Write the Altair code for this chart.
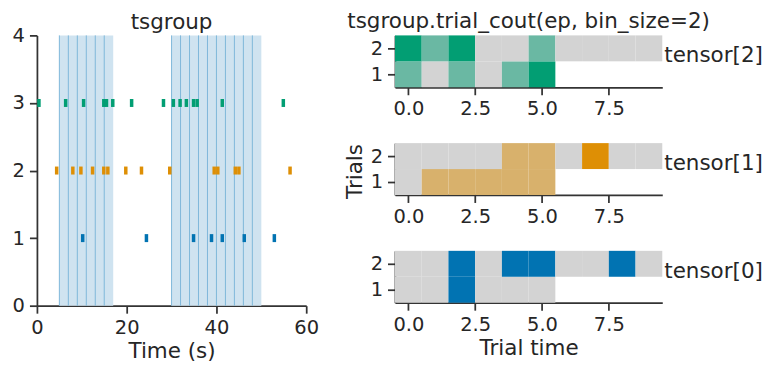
import altair as alt
import pandas as pd

# ---------------- data ----------------
unit0_times = [10.2, 24.4, 34.9, 38.9, 41.3, 46.2, 52.9]
unit1_times = [4.4, 8.0, 9.8, 12.4, 14.9, 15.8, 19.8, 23.3, 29.6, 39.5, 40.3, 44.2, 45.0, 56.4]
unit2_times = [0.45, 6.4, 10.4, 14.9, 15.5, 16.9, 21.1, 28.2, 30.4, 31.9, 33.3, 34.9, 35.7, 41.3, 54.9]

epoch_starts = [5, 30]
epoch_ends = [17, 50]
bin_edges = [5, 7, 9, 11, 13, 15, 30, 32, 34, 36, 38, 40, 42, 44, 46, 48]

# counts per tensor, per trial (trial 1 has 6 bins, trial 2 has 10 bins)
counts_t0 = {1: [0, 0, 1, 0, 0, 0], 2: [0, 0, 1, 0, 1, 1, 0, 0, 1, 0]}
counts_t1 = {1: [0, 1, 1, 1, 1, 1], 2: [0, 0, 0, 0, 1, 1, 0, 2, 0, 0]}
counts_t2 = {1: [1, 0, 1, 0, 1, 2], 2: [2, 1, 2, 0, 0, 1, 0, 0, 0, 0]}

unit_colors = ["#0173b2", "#de8f05", "#029e73"]
tensor_labels = ["tensor[0]", "tensor[1]", "tensor[2]"]

FONT = "DejaVu Sans"
AX = "#333333"
TXT = "#262626"
LBL = 19.5
TTL = 21.5

# ---------------- left raster ----------------
rows = []
for u, ts in enumerate([unit0_times, unit1_times, unit2_times]):
    for t in ts:
        rows.append({"t": t, "unit": u + 1, "c": unit_colors[u]})
spikes = pd.DataFrame(rows)
eps = pd.DataFrame({"s": epoch_starts, "e": epoch_ends, "y0": [0, 0], "y1": [4, 4]})
edges = pd.DataFrame({"x": bin_edges})

LW, LH = 270, 271
xs = alt.Scale(domain=[0, 60], nice=False, zero=False)
ys = alt.Scale(domain=[0, 4], nice=False)

ep_layer = alt.Chart(eps).mark_rect(color="#cfe3f0").encode(
    x=alt.X("s:Q", scale=xs, axis=alt.Axis(values=[0, 20, 40, 60], format="d", title="Time (s)")),
    x2="e:Q",
    y=alt.Y("y0:Q", scale=ys, axis=alt.Axis(values=[0, 1, 2, 3, 4], format="d", title=None)),
    y2="y1:Q",
)
edge_layer = alt.Chart(edges).mark_rule(color="#80b8da", strokeWidth=1).encode(
    x=alt.X("x:Q", scale=xs),
    y=alt.value(0),
    y2=alt.value(LH),
)
spk_layer = alt.Chart(spikes).mark_tick(orient="vertical", thickness=3.5, size=8, opacity=1).encode(
    x=alt.X("t:Q", scale=xs),
    y=alt.Y("unit:Q", scale=ys),
    color=alt.Color("c:N", scale=None),
)
left = alt.layer(ep_layer, edge_layer, spk_layer).properties(
    width=LW, height=LH, title=alt.TitleParams("tsgroup", offset=-8)
)

# ---------------- right heatmaps ----------------
def mix(c, f):
    g = (211, 211, 211)
    r, gg, b = int(c[1:3], 16), int(c[3:5], 16), int(c[5:7], 16)
    out = [round(g[i] + (v - g[i]) * f) for i, v in enumerate((r, gg, b))]
    return "#%02x%02x%02x" % tuple(out)

RW, RH = 268, 52
hx = alt.Scale(domain=[-0.5, 9.5], nice=False, zero=False)
hy = alt.Scale(domain=[0.5, 2.5], nice=False, zero=False)

def panel(counts, color, label, first=False, middle=False, last=False):
    mx = max(max(v) for v in counts.values())
    recs = []
    for trial, vals in counts.items():
        for i, v in enumerate(vals):
            recs.append({"b0": i - 0.5, "b1": i + 0.5, "t0": trial - 0.5, "t1": trial + 0.5,
                         "col": mix(color, v / mx)})
    df = pd.DataFrame(recs)
    yaxis = alt.Axis(values=[1, 2], format="d", title=None)
    if middle:
        yaxis = alt.Axis(values=[1, 2], format="d", title="Trials", titleY=RH / 2 + 2)
    rect = alt.Chart(df).mark_rect(stroke=None).encode(
        x=alt.X("b0:Q", scale=hx,
                axis=alt.Axis(values=[0, 2.5, 5, 7.5], format=".1f",
                              title="Trial time" if last else None)),
        x2="b1:Q",
        y=alt.Y("t0:Q", scale=hy, axis=yaxis),
        y2="t1:Q",
        color=alt.Color("col:N", scale=None),
    )
    txt = alt.Chart(pd.DataFrame({"l": [label]})).mark_text(
        align="left", baseline="alphabetic", fontSize=TTL, font=FONT, color=TXT
    ).encode(x=alt.value(RW + 2), y=alt.value(RH / 2 + 1), text="l:N")
    props = dict(width=RW, height=RH)
    if first:
        props["title"] = alt.TitleParams("tsgroup.trial_cout(ep, bin_size=2)", offset=3)
    return alt.layer(rect, txt).properties(**props)

p2 = panel(counts_t2, unit_colors[2], tensor_labels[2], first=True)
p1 = panel(counts_t1, unit_colors[1], tensor_labels[1], middle=True)
p0 = panel(counts_t0, unit_colors[0], tensor_labels[0], last=True)
right = alt.vconcat(p2, p1, p0, spacing=25)

chart = alt.hconcat(left, right, spacing=25).properties(
    padding={"left": 4, "top": 2, "right": 2, "bottom": 2}
).configure_view(stroke=None).configure_axis(
    grid=False,
    domainColor=AX, domainWidth=1.75, tickColor=AX, tickWidth=1.75, tickSize=7.5,
    labelFont=FONT, labelFontSize=LBL, labelColor=TXT, labelPadding=5,
    titleFont=FONT, titleFontSize=TTL, titleFontWeight="normal", titleColor=TXT, titlePadding=4,
    labelFlush=False, labelOverlap=False,
).configure_title(
    font=FONT, fontSize=TTL, fontWeight="normal", color=TXT, anchor="middle"
)

chart.save("out.html", embed_options={"renderer": "svg", "actions": False})
